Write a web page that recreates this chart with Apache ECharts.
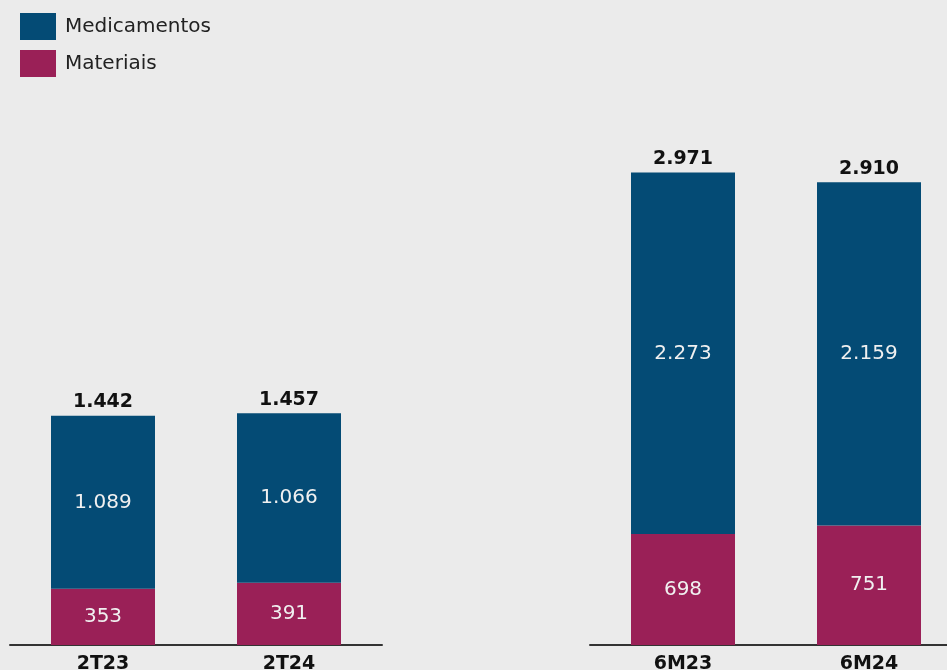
<!DOCTYPE html>
<html>
<head>
<meta charset="utf-8">
<script src="https://cdn.jsdelivr.net/npm/echarts@6/dist/echarts.min.js"></script>
<style>
html,body{margin:0;padding:0;background:#ebebeb;}
#chart{width:947px;height:670px;}
</style>
</head>
<body>
<div id="chart"></div>
<script>
const categoriesQuarter = ['2T23', '2T24'];
const categoriesHalf = ['6M23', '6M24'];
const medicamentosQuarter = [1089, 1066];
const materiaisQuarter = [353, 391];
const totalsQuarter = [1442, 1457];
const medicamentosHalf = [2273, 2159];
const materiaisHalf = [698, 751];
const totalsHalf = [2971, 2910];

const BLUE = '#044b75';
const MAGENTA = '#9a2057';
const FONT = 'DejaVu Sans';

function fmt(v) {
  return String(v).replace(/\B(?=(\d{3})+(?!\d))/g, '.');
}

function seriesFor(idx, med, mat, totals) {
  const inner = {
    show: true, position: 'inside', color: '#f0f0f0',
    fontFamily: FONT, fontSize: 20,
    formatter: p => fmt(p.value)
  };
  return [
    {
      name: 'Materiais', type: 'bar', stack: 's' + idx,
      xAxisIndex: idx, yAxisIndex: idx, barWidth: 104,
      itemStyle: { color: MAGENTA }, label: inner, data: mat
    },
    {
      name: 'Medicamentos', type: 'bar', stack: 's' + idx,
      xAxisIndex: idx, yAxisIndex: idx, barWidth: 104,
      itemStyle: { color: BLUE }, label: inner, data: med
    },
    {
      name: 'Total', type: 'bar', stack: 's' + idx,
      xAxisIndex: idx, yAxisIndex: idx, barWidth: 104,
      itemStyle: { color: 'transparent' },
      label: {
        show: true, position: 'top', distance: 4, color: '#111',
        fontFamily: FONT, fontSize: 19, fontWeight: 'bold',
        formatter: p => fmt(totals[p.dataIndex])
      },
      data: totals.map(() => 0),
      silent: true
    }
  ];
}

function xAxisFor(idx, cats) {
  return {
    type: 'category', gridIndex: idx, data: cats,
    axisLine: { show: true, lineStyle: { color: '#333', width: 2 } },
    axisTick: { show: false },
    axisLabel: { color: '#111', fontFamily: FONT, fontSize: 19, fontWeight: 'bold', margin: 10 }
  };
}
function yAxisFor(idx) {
  return {
    type: 'value', gridIndex: idx, min: 0, max: 3000,
    show: false, splitLine: { show: false }
  };
}

const chart = echarts.init(document.getElementById('chart'));
chart.setOption({
  backgroundColor: '#ebebeb',
  animation: false,
  legend: {
    data: ['Medicamentos', 'Materiais'],
    orient: 'vertical', left: 15, top: 8,
    itemWidth: 36, itemHeight: 27, itemGap: 10,
    icon: 'rect',
    textStyle: { fontFamily: FONT, fontSize: 20, color: '#222', padding: [0, 0, 0, 4] }
  },
  grid: [
    { left: 10, width: 372, top: 168, bottom: 25, outerBoundsMode: 'none', containLabel: false },
    { left: 590, width: 372, top: 168, bottom: 25, outerBoundsMode: 'none', containLabel: false }
  ],
  xAxis: [xAxisFor(0, categoriesQuarter), xAxisFor(1, categoriesHalf)],
  yAxis: [yAxisFor(0), yAxisFor(1)],
  series: [
    ...seriesFor(0, medicamentosQuarter, materiaisQuarter, totalsQuarter),
    ...seriesFor(1, medicamentosHalf, materiaisHalf, totalsHalf)
  ]
});
</script>
</body>
</html>
